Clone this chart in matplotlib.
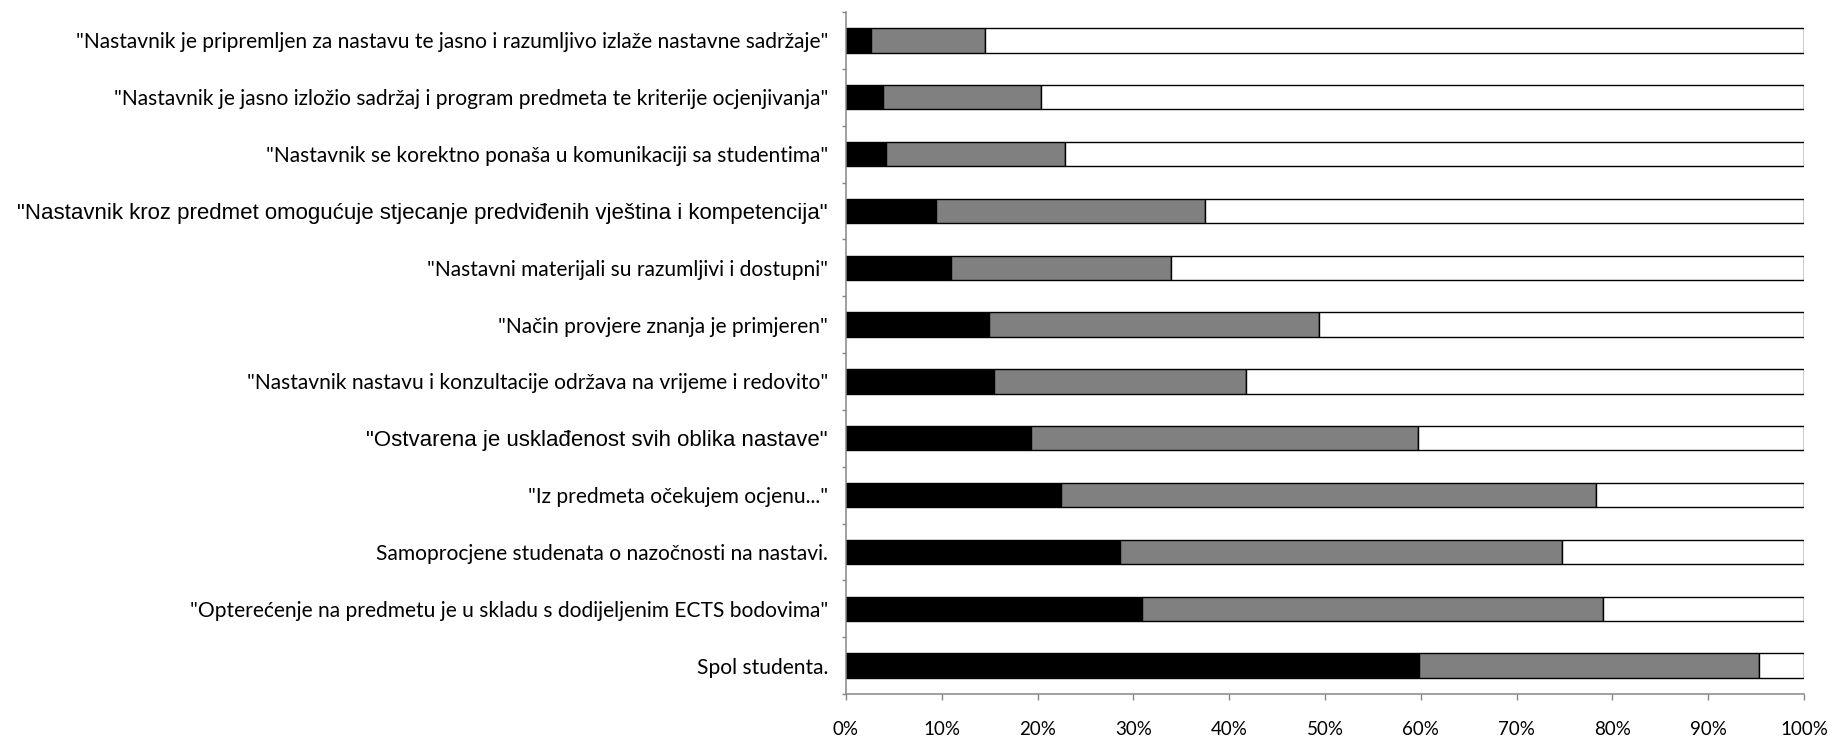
import matplotlib
matplotlib.use("Agg")
import matplotlib.pyplot as plt
import numpy as np
from matplotlib.ticker import FixedLocator, PercentFormatter

# ---------------- data ----------------
categories = [
    '"Nastavnik je pripremljen za nastavu te jasno i razumljivo izlaže nastavne sadržaje"',
    '"Nastavnik je jasno izložio sadržaj i program predmeta te kriterije ocjenjivanja"',
    '"Nastavnik se korektno ponaša u komunikaciji sa studentima"',
    '"Nastavnik kroz predmet omogućuje stjecanje predviđenih vještina i kompetencija"',
    '"Nastavni materijali su razumljivi i dostupni"',
    '"Način provjere znanja je primjeren"',
    '"Nastavnik nastavu i konzultacije održava na vrijeme i redovito"',
    '"Ostvarena je usklađenost svih oblika nastave"',
    '"Iz predmeta očekujem ocjenu..."',
    'Samoprocjene studenata o nazočnosti na nastavi.',
    '"Opterećenje na predmetu je u skladu s dodijeljenim ECTS bodovima"',
    'Spol studenta.',
]
black_vals = [2.6, 3.9, 4.2, 9.4, 11.0, 14.9, 15.4, 19.3, 22.4, 28.6, 30.9, 59.8]
gray_vals = [11.9, 16.5, 18.7, 28.1, 22.9, 34.5, 26.4, 40.4, 55.9, 46.1, 48.1, 35.5]
white_vals = [100 - b - g for b, g in zip(black_vals, gray_vals)]
x_ticks = [0, 10, 20, 30, 40, 50, 60, 70, 80, 90, 100]

# ---------------- layout / style ----------------
W, H = 1833, 741
fig = plt.figure(figsize=(W / 100, H / 100), dpi=100)
ax = fig.add_axes([846 / W, 1 - 694 / H, (1804 - 846) / W, (694 - 12) / H])

arial_labels = {3, 7}
label_widths = [750, 715, 557, 816, 404, 332, 576, 462, 305, 339, 634, 135]

y = np.arange(len(categories))
bh = 0.43
edge = dict(edgecolor="black", linewidth=1.0)
ax.barh(y, black_vals, height=bh, color="black", **edge)
ax.barh(y, gray_vals, left=black_vals, height=bh, color="#808080", **edge)
lefts2 = [b + g for b, g in zip(black_vals, gray_vals)]
ax.barh(y, white_vals, left=lefts2, height=bh, color="white", **edge)

ax.set_xlim(0, 100)
ax.set_ylim(len(categories) - 0.5, -0.5)

axis_col = "#868686"
for s in ["top", "right"]:
    ax.spines[s].set_visible(False)
for s in ["left", "bottom"]:
    ax.spines[s].set_color(axis_col)
    ax.spines[s].set_linewidth(1.1)

ax.xaxis.set_major_locator(FixedLocator(x_ticks))
ax.xaxis.set_major_formatter(PercentFormatter(decimals=0))
ax.tick_params(axis="x", which="major", direction="out", length=4.5, width=1.0,
               color=axis_col, pad=15, labelsize=13.5)
for t in ax.get_xticklabels():
    t.set_family("Lato")
    t.set_color("black")

ax.set_yticks(y)
ax.set_yticklabels(categories)
ax.set_yticks(np.arange(-0.5, len(categories), 1.0), minor=True)
ax.tick_params(axis="y", which="major", length=0, pad=13)
ax.tick_params(axis="y", which="minor", direction="out", length=3, width=1.0,
               color=axis_col)

base = 12.0
labels = ax.get_yticklabels()
for i, t in enumerate(labels):
    t.set_family("Liberation Sans" if i in arial_labels else "Lato")
    t.set_fontsize(base)
    t.set_color("black")

fig.canvas.draw()
r = fig.canvas.get_renderer()
fits = [base * label_widths[i] / t.get_window_extent(r).width for i, t in enumerate(labels)]
cal_size = float(np.median([f for i, f in enumerate(fits) if i not in arial_labels]))
ari_size = float(np.mean([f for i, f in enumerate(fits) if i in arial_labels]))
for i, t in enumerate(labels):
    t.set_fontsize(ari_size if i in arial_labels else cal_size)

fig.savefig("out.png", dpi=100, facecolor="white")
